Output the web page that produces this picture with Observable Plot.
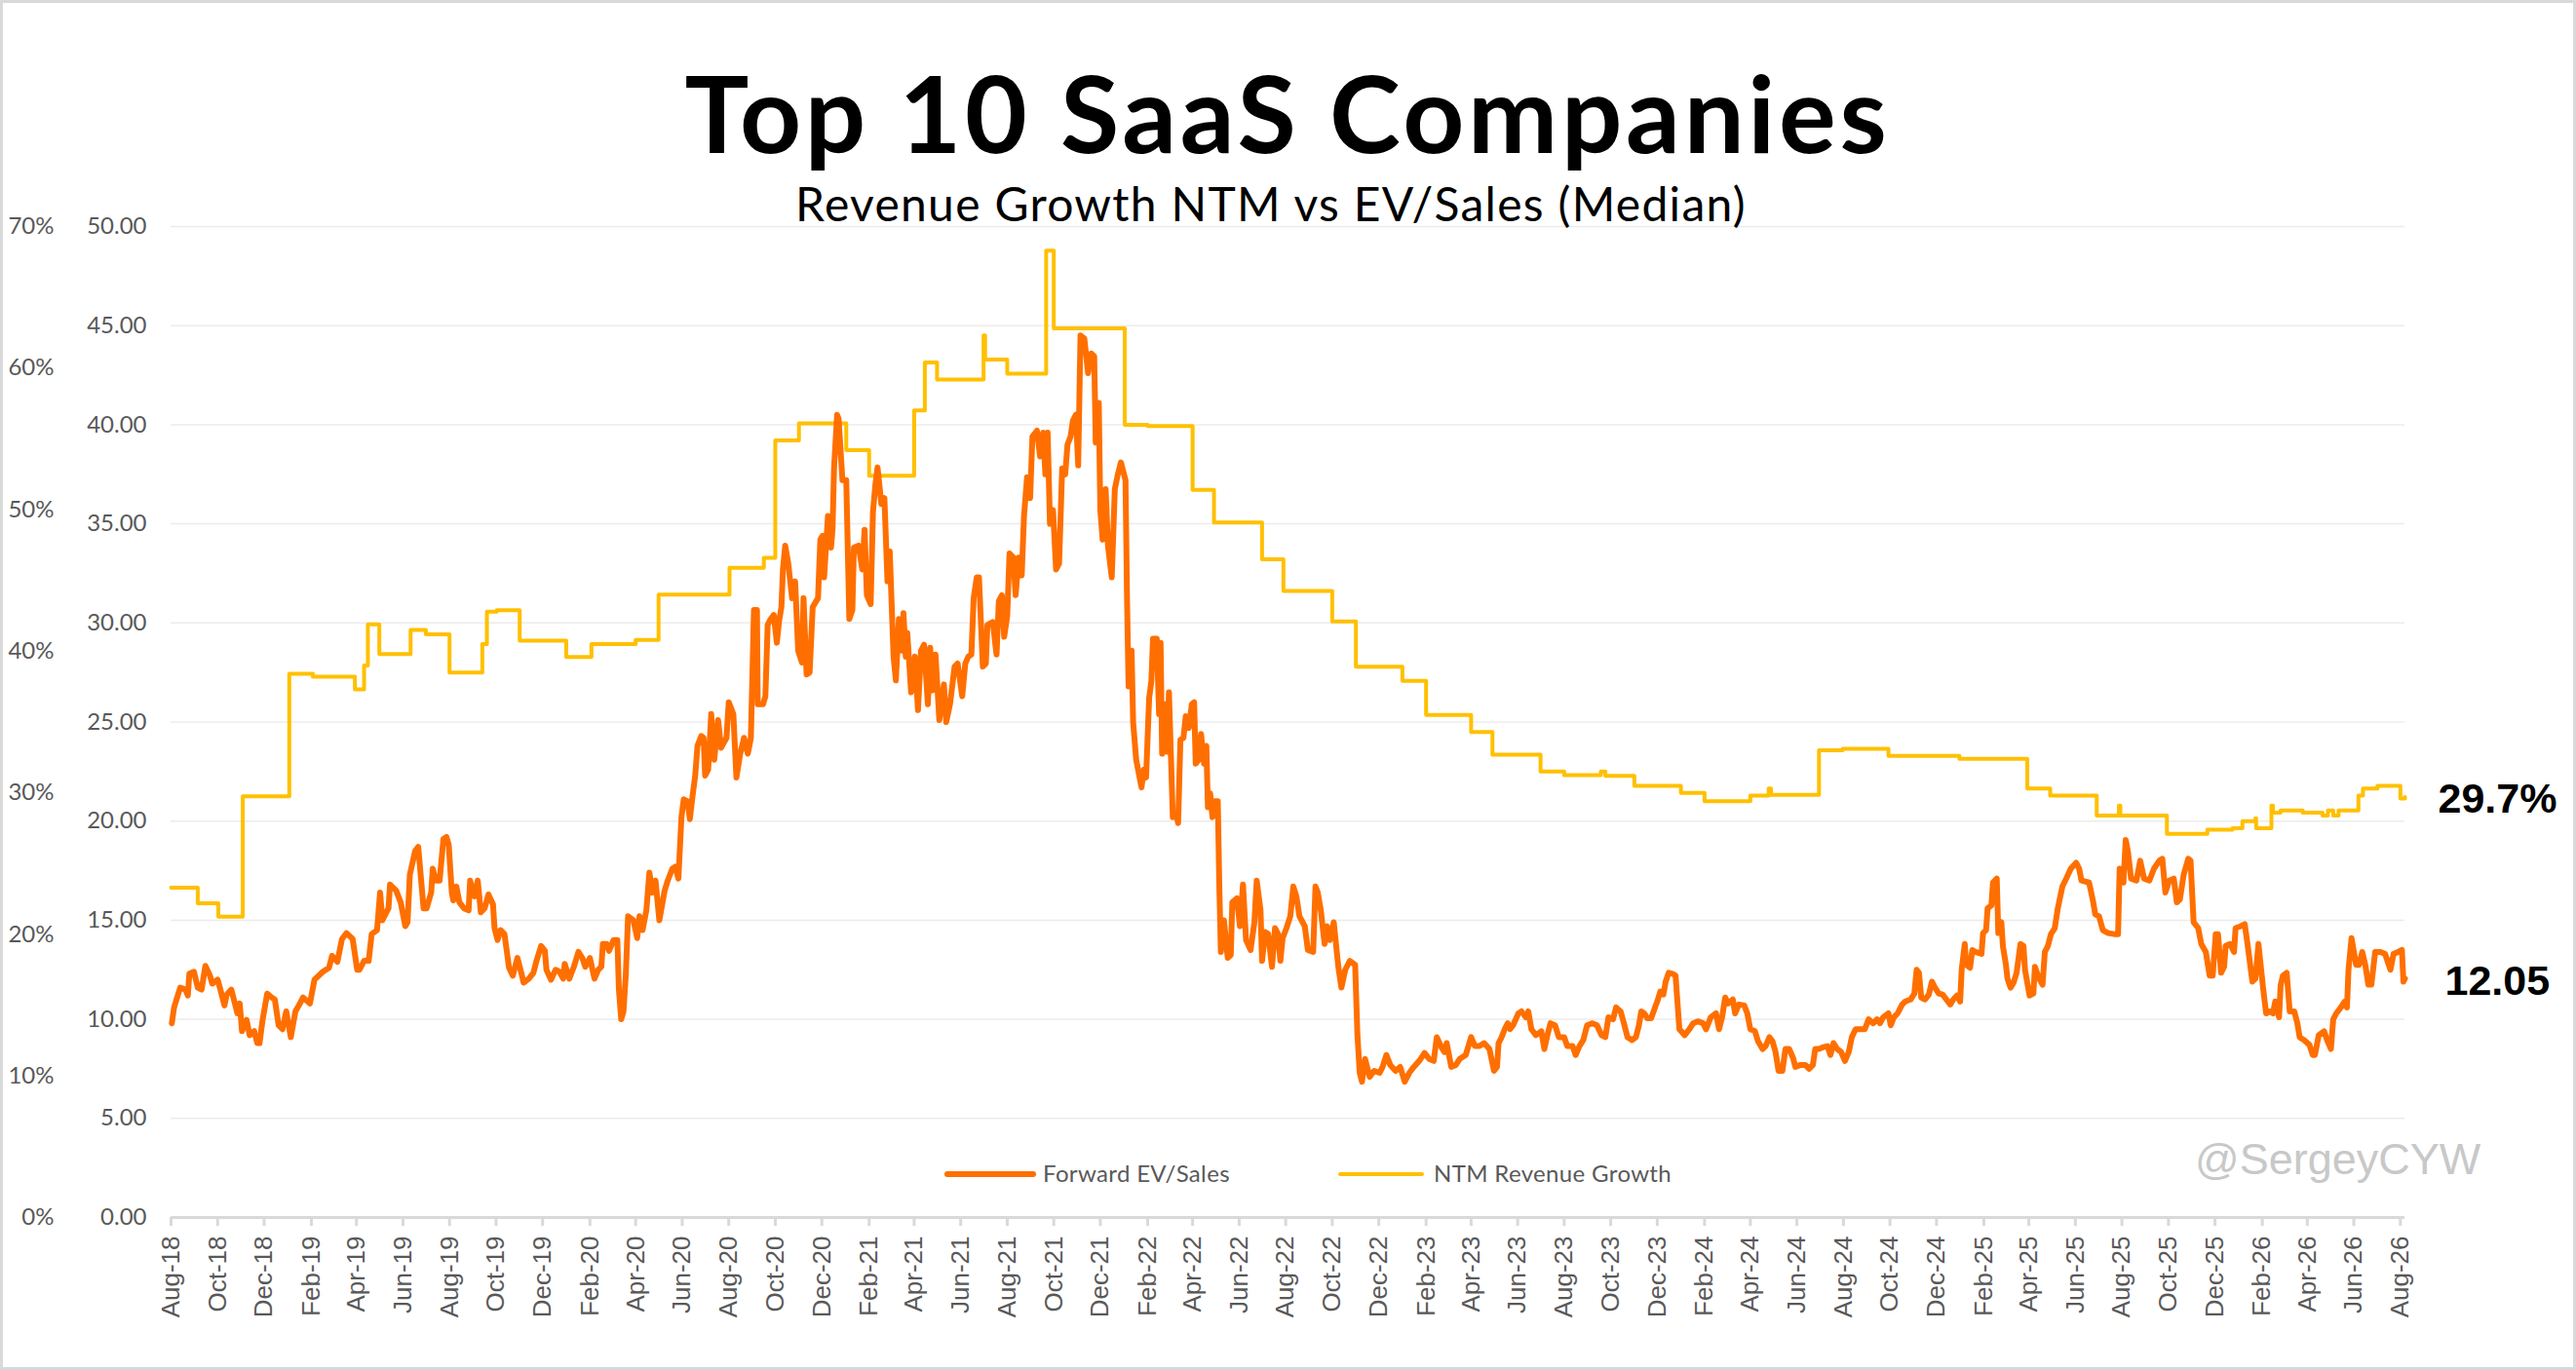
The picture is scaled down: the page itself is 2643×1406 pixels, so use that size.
<!DOCTYPE html>
<html><head><meta charset="utf-8">
<script src="https://cdn.jsdelivr.net/npm/d3@7"></script>
<script src="https://cdn.jsdelivr.net/npm/@observablehq/plot@0.6"></script>
<style>
html,body{margin:0;padding:0;background:#fff;overflow:hidden;}
#wrap{position:relative;width:2643px;height:1406px;background:#fff;}
#chart{position:absolute;left:0;top:0;}
#frame{position:absolute;left:0;top:0;width:2643px;height:1406px;box-sizing:border-box;border:3px solid #d9d9d9;pointer-events:none;}
.t{position:absolute;white-space:nowrap;line-height:1;}
#title{font-family:Lato,sans-serif;font-weight:700;font-size:110px;letter-spacing:3.7px;top:59px;left:1321px;transform:translateX(-50%);color:#000;}
#subtitle{font-family:Lato,sans-serif;font-size:48px;letter-spacing:1.3px;top:185px;left:1304px;transform:translateX(-50%);color:#000;}
.leg{font-family:Lato,sans-serif;font-size:24px;letter-spacing:0.35px;color:#595959;top:1192px;}
.sw{position:absolute;}
#wm{font-family:"Liberation Sans",Arial,sans-serif;font-size:45px;color:#c8c8c8;left:2252px;top:1167px;}
</style></head>
<body><div id="wrap">
<div id="chart"></div>
<div class="t" id="title"></div>
<div class="t" id="subtitle"></div>
<div class="sw" id="sw1" style="left:969px;top:1202px;width:94px;height:6px;border-radius:3px;"></div>
<div class="t leg" id="leg1" style="left:1070px;"></div>
<div class="sw" id="sw2" style="left:1373px;top:1203px;width:88px;height:4px;border-radius:2px;"></div>
<div class="t leg" id="leg2" style="left:1471px;"></div>
<div class="t" id="wm"></div>
<div id="frame"></div>
</div>
<script>
const titleText = "Top 10 SaaS Companies";
const subtitleText = "Revenue Growth NTM vs EV/Sales (Median)";
const seriesNames = ["Forward EV/Sales", "NTM Revenue Growth"];
const seriesColors = ["#FF6F00", "#FFC000"];
const watermark = "@SergeyCYW";
const evTicks = [0, 5, 10, 15, 20, 25, 30, 35, 40, 45, 50];
const pctTicks = [0, 10, 20, 30, 40, 50, 60, 70];
const evMax = 50, pctMax = 70;
const xDomain = ["2018-08-01", "2026-08-07"];
const xTickLabels = ["Aug-18","Oct-18","Dec-18","Feb-19","Apr-19","Jun-19","Aug-19","Oct-19","Dec-19","Feb-20","Apr-20","Jun-20","Aug-20","Oct-20","Dec-20","Feb-21","Apr-21","Jun-21","Aug-21","Oct-21","Dec-21","Feb-22","Apr-22","Jun-22","Aug-22","Oct-22","Dec-22","Feb-23","Apr-23","Jun-23","Aug-23","Oct-23","Dec-23","Feb-24","Apr-24","Jun-24","Aug-24","Oct-24","Dec-24","Feb-25","Apr-25","Jun-25","Aug-25","Oct-25","Dec-25","Feb-26","Apr-26","Jun-26","Aug-26"];

// Forward EV/Sales (median)
const evSales = [
["2018-08-02",9.8],["2018-08-05",10.6],["2018-08-09",11.1],["2018-08-13",11.6],["2018-08-20",11.5],["2018-08-23",11.2],["2018-08-25",12.3],["2018-08-31",12.4],
["2018-09-05",11.6],["2018-09-10",11.5],["2018-09-15",12.7],["2018-09-21",12.2],["2018-09-24",11.8],
["2018-10-01",12.0],["2018-10-04",11.6],["2018-10-10",10.7],["2018-10-13",11.25],["2018-10-19",11.5],["2018-10-23",10.9],["2018-10-27",10.3],["2018-10-30",10.8],
["2018-11-02",9.4],["2018-11-08",9.97],["2018-11-12",9.2],["2018-11-18",9.4],["2018-11-22",8.8],["2018-11-25",8.8],["2018-11-29",9.97],
["2018-12-05",11.3],["2018-12-11",11.1],["2018-12-15",11.0],["2018-12-20",9.7],["2018-12-25",9.5],["2018-12-30",10.4],
["2019-01-05",9.1],["2019-01-11",10.4],["2019-01-17",10.8],["2019-01-21",11.1],["2019-01-30",10.8],
["2019-02-05",12.0],["2019-02-16",12.4],["2019-02-24",12.6],["2019-02-28",13.2],
["2019-03-07",12.9],["2019-03-13",14.05],["2019-03-19",14.35],["2019-03-27",14.05],
["2019-04-02",12.5],["2019-04-05",12.5],["2019-04-11",12.95],["2019-04-17",12.95],["2019-04-21",14.3],["2019-04-28",14.5],
["2019-05-02",16.4],["2019-05-05",15.0],["2019-05-13",15.6],["2019-05-15",16.8],["2019-05-23",16.5],["2019-05-29",15.9],
["2019-06-04",14.7],["2019-06-07",14.9],["2019-06-10",17.3],["2019-06-17",18.5],["2019-06-21",18.7],["2019-06-28",15.6],
["2019-07-02",15.6],["2019-07-08",16.4],["2019-07-10",17.6],["2019-07-14",17.0],["2019-07-19",17.0],["2019-07-24",19.1],["2019-07-28",19.2],["2019-07-31",18.8],
["2019-08-04",16.4],["2019-08-06",16.0],["2019-08-10",16.7],["2019-08-14",15.9],["2019-08-20",15.6],["2019-08-26",15.5],["2019-08-28",17.0],
["2019-09-03",16.2],["2019-09-07",17.0],["2019-09-11",15.4],["2019-09-16",15.6],["2019-09-21",16.3],["2019-09-27",15.8],["2019-09-29",14.6],
["2019-10-03",14.0],["2019-10-07",14.5],["2019-10-12",14.3],["2019-10-18",12.6],["2019-10-23",12.2],["2019-10-29",13.1],
["2019-11-04",12.2],["2019-11-06",11.85],["2019-11-13",12.05],["2019-11-19",12.35],["2019-11-23",12.95],["2019-11-29",13.7],
["2019-12-04",13.45],["2019-12-06",12.5],["2019-12-12",12.0],["2019-12-18",12.5],["2019-12-23",12.4],["2019-12-28",12.05],["2019-12-30",12.8],
["2020-01-05",12.05],["2020-01-11",12.65],["2020-01-17",13.4],["2020-01-22",13.1],["2020-01-26",12.65],
["2020-02-01",13.1],["2020-02-07",12.05],["2020-02-12",12.5],["2020-02-16",12.65],["2020-02-18",13.8],["2020-02-23",13.8],["2020-02-26",13.45],
["2020-03-03",14.0],["2020-03-08",14.0],["2020-03-10",11.5],["2020-03-13",10.0],["2020-03-16",10.4],["2020-03-19",12.2],["2020-03-22",15.2],["2020-03-29",15.0],
["2020-04-03",14.1],["2020-04-06",15.2],["2020-04-10",14.5],["2020-04-15",15.5],["2020-04-19",17.4],["2020-04-23",16.4],["2020-04-27",17.0],
["2020-05-02",15.0],["2020-05-09",16.5],["2020-05-13",17.0],["2020-05-19",17.6],["2020-05-23",17.7],["2020-05-27",17.1],["2020-05-31",20.2],
["2020-06-03",21.1],["2020-06-08",21.0],["2020-06-11",20.1],["2020-06-14",21.1],["2020-06-18",22.3],["2020-06-21",23.8],["2020-06-26",24.3],["2020-06-29",24.2],
["2020-07-01",22.3],["2020-07-05",22.6],["2020-07-09",25.4],["2020-07-13",23.1],["2020-07-18",25.1],["2020-07-22",23.7],["2020-07-29",24.2],
["2020-08-01",26.0],["2020-08-07",25.4],["2020-08-11",22.2],["2020-08-16",23.4],["2020-08-21",24.2],["2020-08-26",23.4],["2020-08-30",24.2],
["2020-09-03",30.65],["2020-09-07",30.65],["2020-09-08",25.9],["2020-09-15",25.9],["2020-09-18",26.3],["2020-09-21",29.9],["2020-09-25",30.2],["2020-09-29",30.4],
["2020-10-03",29.0],["2020-10-06",30.1],["2020-10-09",30.8],["2020-10-11",32.7],["2020-10-14",33.9],["2020-10-18",33.0],["2020-10-23",31.25],["2020-10-27",32.1],["2020-10-31",28.6],
["2020-11-05",28.0],["2020-11-07",31.25],["2020-11-11",27.4],["2020-11-15",27.5],["2020-11-19",30.8],["2020-11-26",31.25],["2020-11-29",34.2],
["2020-12-02",34.4],["2020-12-04",32.3],["2020-12-09",35.4],["2020-12-13",33.8],["2020-12-15",34.7],["2020-12-17",37.8],["2020-12-21",40.5],["2020-12-23",40.3],["2020-12-28",37.2],
["2021-01-02",37.2],["2021-01-06",30.2],["2021-01-10",30.65],["2021-01-12",33.8],["2021-01-18",33.9],["2021-01-23",32.7],["2021-01-26",34.7],["2021-01-29",31.4],
["2021-02-03",30.95],["2021-02-06",35.6],["2021-02-09",36.9],["2021-02-12",37.85],["2021-02-17",36.0],["2021-02-21",36.3],["2021-02-25",32.1],["2021-02-28",33.6],
["2021-03-05",28.3],["2021-03-08",27.1],["2021-03-12",30.2],["2021-03-16",28.6],["2021-03-18",30.5],["2021-03-21",28.3],["2021-03-23",29.5],["2021-03-28",26.5],
["2021-04-02",28.3],["2021-04-06",25.6],["2021-04-10",28.6],["2021-04-14",28.9],["2021-04-19",25.9],["2021-04-22",28.75],["2021-04-25",26.6],["2021-04-29",28.4],
["2021-05-04",25.1],["2021-05-10",26.9],["2021-05-13",25.0],["2021-05-18",25.9],["2021-05-24",27.8],["2021-05-28",27.95],
["2021-06-03",26.3],["2021-06-07",27.95],["2021-06-11",28.3],["2021-06-15",28.4],["2021-06-18",31.25],["2021-06-22",32.3],["2021-06-25",32.3],["2021-06-30",27.8],
["2021-07-04",27.95],["2021-07-06",29.9],["2021-07-13",30.05],["2021-07-18",28.4],["2021-07-21",31.1],["2021-07-25",31.4],["2021-07-28",29.3],
["2021-08-01",30.35],["2021-08-04",33.5],["2021-08-09",33.3],["2021-08-12",31.4],["2021-08-16",33.3],["2021-08-20",32.4],["2021-08-23",35.4],["2021-08-27",37.35],["2021-08-31",36.3],
["2021-09-03",39.4],["2021-09-09",39.7],["2021-09-13",38.4],["2021-09-17",39.6],["2021-09-20",37.5],["2021-09-23",39.6],["2021-09-26",35.0],["2021-09-30",35.7],
["2021-10-04",32.7],["2021-10-08",33.0],["2021-10-12",37.8],["2021-10-16",37.5],["2021-10-19",39.0],["2021-10-23",39.4],["2021-10-26",40.2],["2021-10-30",40.5],
["2021-11-02",37.95],["2021-11-05",44.5],["2021-11-10",44.35],["2021-11-15",42.6],["2021-11-19",43.6],["2021-11-23",43.45],["2021-11-25",39.1],["2021-11-29",41.1],
["2021-12-01",35.7],["2021-12-04",34.2],["2021-12-08",36.75],["2021-12-11",33.9],["2021-12-16",32.3],["2021-12-20",36.75],["2021-12-24",37.5],["2021-12-28",38.1],
["2022-01-03",37.2],["2022-01-05",31.25],["2022-01-07",26.8],["2022-01-11",28.6],["2022-01-13",25.0],["2022-01-17",23.1],["2022-01-20",22.5],["2022-01-24",21.7],["2022-01-27",22.6],["2022-01-30",22.2],
["2022-02-03",26.2],["2022-02-06",27.1],["2022-02-08",29.2],["2022-02-13",29.2],["2022-02-16",25.4],["2022-02-18",29.0],["2022-02-20",23.4],["2022-02-24",25.9],["2022-02-26",23.5],
["2022-03-01",26.5],["2022-03-06",20.2],["2022-03-10",20.4],["2022-03-13",19.9],["2022-03-16",24.1],["2022-03-20",24.2],["2022-03-23",25.3],["2022-03-27",24.7],["2022-03-31",25.9],
["2022-04-03",26.0],["2022-04-05",22.9],["2022-04-09",23.1],["2022-04-12",24.4],["2022-04-16",22.9],["2022-04-19",23.8],["2022-04-21",20.7],["2022-04-24",21.4],["2022-04-27",20.2],["2022-04-30",21.0],
["2022-05-04",21.0],["2022-05-06",16.7],["2022-05-08",13.4],["2022-05-12",15.0],["2022-05-17",13.1],["2022-05-21",13.25],["2022-05-23",15.9],["2022-05-29",16.1],
["2022-06-02",14.7],["2022-06-06",16.8],["2022-06-10",14.0],["2022-06-16",13.5],["2022-06-21",14.9],["2022-06-24",17.0],["2022-06-29",15.5],
["2022-07-01",12.95],["2022-07-05",14.4],["2022-07-09",14.3],["2022-07-14",12.65],["2022-07-18",14.6],["2022-07-22",14.3],["2022-07-25",12.95],["2022-07-28",14.1],
["2022-08-02",14.6],["2022-08-07",15.2],["2022-08-11",16.7],["2022-08-15",16.2],["2022-08-19",15.2],["2022-08-26",14.7],["2022-08-30",13.5],
["2022-09-06",13.4],["2022-09-09",16.7],["2022-09-12",16.4],["2022-09-16",15.5],["2022-09-21",13.8],["2022-09-24",14.7],["2022-09-28",14.0],
["2022-10-03",14.9],["2022-10-09",12.65],["2022-10-13",11.6],["2022-10-18",12.5],["2022-10-24",12.95],["2022-10-31",12.75],
["2022-11-03",9.2],["2022-11-06",7.3],["2022-11-09",6.85],["2022-11-13",8.0],["2022-11-19",7.1],["2022-11-25",7.4],
["2022-12-02",7.3],["2022-12-06",7.6],["2022-12-11",8.2],["2022-12-16",7.7],["2022-12-23",7.4],["2022-12-29",7.6],
["2023-01-04",6.85],["2023-01-10",7.3],["2023-01-16",7.6],["2023-01-23",7.9],["2023-01-30",8.3],
["2023-02-05",8.0],["2023-02-11",7.9],["2023-02-15",9.1],["2023-02-21",8.6],["2023-02-25",8.35],["2023-02-28",8.8],
["2023-03-06",7.6],["2023-03-12",7.7],["2023-03-17",8.0],["2023-03-25",8.2],
["2023-04-01",9.1],["2023-04-06",8.65],["2023-04-12",8.65],["2023-04-18",8.8],["2023-04-25",8.5],
["2023-05-01",7.4],["2023-05-05",7.6],["2023-05-07",8.8],["2023-05-11",9.1],["2023-05-15",9.5],["2023-05-19",9.8],["2023-05-22",9.5],["2023-05-26",9.7],
["2023-06-02",10.3],["2023-06-06",10.4],["2023-06-12",10.1],["2023-06-15",10.4],["2023-06-19",9.5],["2023-06-25",9.2],
["2023-07-02",9.4],["2023-07-06",8.5],["2023-07-10",9.2],["2023-07-14",9.8],["2023-07-20",9.7],["2023-07-25",9.1],
["2023-08-01",9.1],["2023-08-05",8.65],["2023-08-12",8.65],["2023-08-16",8.2],["2023-08-21",8.65],["2023-08-26",8.95],["2023-08-31",9.7],
["2023-09-07",9.8],["2023-09-13",9.7],["2023-09-19",9.2],["2023-09-24",9.1],["2023-09-28",10.1],
["2023-10-04",10.0],["2023-10-08",10.6],["2023-10-14",10.4],["2023-10-19",9.7],["2023-10-23",9.1],["2023-10-29",8.95],
["2023-11-03",9.1],["2023-11-07",9.7],["2023-11-10",10.4],["2023-11-14",10.3],["2023-11-18",10.05],["2023-11-23",10.05],["2023-11-28",10.6],
["2023-12-01",10.9],["2023-12-05",11.4],["2023-12-09",11.25],["2023-12-12",11.9],["2023-12-16",12.35],["2023-12-21",12.3],["2023-12-25",12.2],["2023-12-30",9.5],
["2024-01-06",9.2],["2024-01-12",9.5],["2024-01-17",9.8],["2024-01-23",9.9],["2024-01-30",9.8],
["2024-02-03",9.5],["2024-02-09",10.1],["2024-02-16",10.3],["2024-02-20",9.5],["2024-02-24",10.1],["2024-02-28",11.1],
["2024-03-03",10.8],["2024-03-09",11.0],["2024-03-12",10.3],["2024-03-17",10.75],["2024-03-24",10.7],["2024-03-28",10.3],
["2024-04-01",9.5],["2024-04-07",9.4],["2024-04-11",8.9],["2024-04-17",8.5],["2024-04-21",8.65],["2024-04-26",9.1],["2024-04-30",8.9],
["2024-05-04",8.35],["2024-05-08",7.4],["2024-05-13",7.4],["2024-05-17",8.5],["2024-05-22",8.5],["2024-05-27",8.05],["2024-05-30",7.6],
["2024-06-06",7.7],["2024-06-12",7.7],["2024-06-17",7.5],["2024-06-22",7.7],["2024-06-25",8.5],["2024-06-30",8.5],
["2024-07-06",8.6],["2024-07-11",8.65],["2024-07-15",8.2],["2024-07-19",8.8],["2024-07-24",8.5],["2024-07-29",8.35],
["2024-08-03",7.9],["2024-08-08",8.35],["2024-08-12",9.1],["2024-08-17",9.5],["2024-08-23",9.5],["2024-08-29",9.5],
["2024-09-03",10.0],["2024-09-09",9.8],["2024-09-14",10.0],["2024-09-18",9.8],["2024-09-22",10.1],["2024-09-29",10.3],
["2024-10-02",9.7],["2024-10-06",10.1],["2024-10-11",10.3],["2024-10-17",10.75],["2024-10-21",10.9],["2024-10-28",11.0],
["2024-11-02",11.3],["2024-11-05",12.5],["2024-11-08",12.35],["2024-11-11",11.1],["2024-11-16",11.0],["2024-11-21",11.25],["2024-11-25",11.9],["2024-11-29",11.6],
["2024-12-04",11.3],["2024-12-09",11.25],["2024-12-14",11.0],["2024-12-19",10.75],["2024-12-23",11.0],["2024-12-28",11.2],
["2025-01-01",10.9],["2025-01-03",12.5],["2025-01-07",13.8],["2025-01-09",12.75],["2025-01-14",12.6],["2025-01-17",13.5],["2025-01-21",13.4],["2025-01-29",13.3],["2025-01-31",14.35],
["2025-02-04",14.5],["2025-02-06",15.6],["2025-02-11",15.75],["2025-02-13",16.9],["2025-02-18",17.1],["2025-02-20",14.35],["2025-02-24",14.9],["2025-02-26",13.7],
["2025-03-02",12.75],["2025-03-04",12.05],["2025-03-08",11.6],["2025-03-12",11.85],["2025-03-16",12.35],["2025-03-21",13.8],["2025-03-25",13.7],["2025-03-27",12.5],
["2025-04-02",11.2],["2025-04-07",11.3],["2025-04-09",12.65],["2025-04-14",12.1],["2025-04-19",11.75],["2025-04-22",13.4],["2025-04-26",13.7],["2025-04-30",14.3],
["2025-05-05",14.6],["2025-05-09",15.6],["2025-05-15",16.7],["2025-05-20",17.1],["2025-05-26",17.6],
["2025-06-02",17.9],["2025-06-06",17.6],["2025-06-09",17.0],["2025-06-19",16.9],["2025-06-24",16.0],["2025-06-27",15.3],
["2025-07-02",15.2],["2025-07-07",14.5],["2025-07-14",14.35],["2025-07-22",14.3],["2025-07-27",14.3],["2025-07-29",17.6],
["2025-08-03",16.9],["2025-08-06",19.05],["2025-08-09",18.45],["2025-08-13",17.1],["2025-08-20",17.0],["2025-08-25",18.0],["2025-08-30",17.1],
["2025-09-06",17.0],["2025-09-12",17.6],["2025-09-19",18.0],["2025-09-23",18.1],["2025-09-27",16.4],
["2025-10-02",17.0],["2025-10-08",17.1],["2025-10-12",15.9],["2025-10-16",16.05],["2025-10-21",17.3],["2025-10-27",18.1],["2025-10-30",18.0],
["2025-11-03",14.9],["2025-11-09",14.6],["2025-11-13",13.8],["2025-11-19",13.4],["2025-11-24",12.2],["2025-11-28",12.2],
["2025-12-02",14.3],["2025-12-05",14.3],["2025-12-09",12.35],["2025-12-13",12.65],["2025-12-15",13.7],["2025-12-21",13.8],["2025-12-26",13.4],["2025-12-28",14.6],
["2026-01-04",14.7],["2026-01-09",14.8],["2026-01-13",13.7],["2026-01-19",11.9],["2026-01-23",12.05],["2026-01-27",13.8],
["2026-02-02",11.6],["2026-02-06",10.3],["2026-02-11",10.4],["2026-02-15",10.3],["2026-02-18",10.9],["2026-02-23",10.1],["2026-02-25",11.7],["2026-02-28",12.2],
["2026-03-05",12.35],["2026-03-09",10.4],["2026-03-15",10.4],["2026-03-19",9.8],["2026-03-22",9.1],["2026-03-28",8.95],
["2026-04-04",8.7],["2026-04-08",8.2],["2026-04-11",8.2],["2026-04-16",9.2],["2026-04-23",9.4],["2026-04-27",8.95],
["2026-05-02",8.5],["2026-05-05",10.0],["2026-05-09",10.3],["2026-05-15",10.6],["2026-05-20",10.9],["2026-05-23",10.6],["2026-05-25",12.5],["2026-05-29",14.1],
["2026-06-04",12.75],["2026-06-08",12.75],["2026-06-12",13.4],["2026-06-16",12.75],["2026-06-20",11.75],["2026-06-24",11.75],["2026-06-29",13.4],
["2026-07-06",13.4],["2026-07-12",13.3],["2026-07-19",12.5],["2026-07-23",13.3],["2026-07-29",13.4],
["2026-08-03",13.5],["2026-08-05",11.9],["2026-08-07",12.05]
];

// NTM Revenue Growth (median, %), step changes
const ntmGrowth = [
["2018-08-01",23.3],["2018-09-05",22.2],["2018-10-02",21.25],["2018-11-03",29.75],["2019-01-03",38.4],["2019-02-03",38.2],["2019-03-30",37.3],["2019-04-11",39.0],["2019-04-16",41.9],["2019-05-01",39.8],["2019-06-11",41.5],["2019-07-01",41.2],["2019-08-01",38.5],["2019-09-13",40.5],["2019-09-19",42.8],["2019-10-02",42.9],["2019-11-01",40.75],["2020-01-01",39.6],["2020-02-03",40.5],["2020-04-01",40.8],["2020-05-01",44.0],["2020-08-02",45.9],["2020-09-16",46.6],["2020-10-01",54.9],["2020-11-01",56.1],["2021-01-02",54.2],["2021-02-01",52.4],["2021-04-01",57.0],["2021-04-15",60.4],["2021-05-01",59.2],["2021-07-01",62.3],["2021-07-03",60.6],["2021-08-01",59.6],["2021-09-21",68.3],["2021-10-01",62.8],["2022-01-02",56.0],["2022-02-01",55.9],["2022-04-01",51.4],["2022-04-29",49.1],["2022-07-01",46.5],["2022-07-29",44.25],["2022-10-01",42.1],["2022-11-01",38.9],["2023-01-01",37.9],["2023-02-01",35.5],["2023-04-01",34.3],["2023-04-29",32.7],["2023-07-01",31.5],["2023-08-01",31.25],["2023-09-18",31.5],["2023-09-24",31.2],["2023-11-01",30.5],["2024-01-01",30.0],["2024-02-01",29.4],["2024-04-01",29.8],["2024-04-25",30.3],["2024-04-28",29.85],["2024-06-30",33.0],["2024-07-31",33.1],["2024-09-29",32.6],["2024-12-31",32.4],["2025-03-30",30.3],["2025-04-29",29.8],["2025-06-29",28.4],["2025-07-28",29.1],["2025-07-30",28.4],["2025-09-29",27.1],["2025-11-21",27.4],["2025-12-24",27.5],["2026-01-06",28.0],["2026-01-23",28.2],["2026-01-24",27.5],["2026-02-13",29.1],["2026-02-15",28.6],["2026-02-25",28.75],["2026-03-26",28.6],["2026-04-21",28.4],["2026-04-28",28.75],["2026-05-05",28.4],["2026-05-12",28.75],["2026-06-07",29.8],["2026-06-13",30.3],["2026-07-02",30.5],["2026-08-01",29.6],["2026-08-07",29.7]
];

const parseDate = d3.utcParse("%Y-%m-%d");
const parseTick = d3.utcParse("%b-%y");
const evRows = evSales.map(([d, v]) => ({date: parseDate(d), value: v}));
const grRows = ntmGrowth.map(([d, v]) => ({date: parseDate(d), pct: v}));
const pctToEv = p => p * evMax / pctMax;
const tickDates = xTickLabels.map(parseTick);
const labelByTime = new Map(tickDates.map((d, i) => [+d, xTickLabels[i]]));

const chart = Plot.plot({
  width: 2643, height: 1406,
  marginLeft: 175, marginRight: 176, marginTop: 232, marginBottom: 157,
  style: {fontFamily: "Lato, sans-serif", background: "transparent", overflow: "visible"},
  x: {type: "utc", domain: xDomain.map(parseDate)},
  y: {domain: [0, evMax]},
  marks: [
    Plot.gridY(evTicks.slice(1), {stroke: "#ececec", strokeOpacity: 1, strokeWidth: 1.5}),
    Plot.axisY(evTicks, {tickSize: 0, tickPadding: 25, tickFormat: d => d.toFixed(2), fontSize: 24, fill: "#595959", label: null}),
    Plot.axisY(pctTicks.map(pctToEv), {tickSize: 0, tickPadding: 120, tickFormat: d => Math.round(d * pctMax / evMax) + "%", fontSize: 24, fill: "#595959", label: null}),
    Plot.ruleY([0], {stroke: "#d9d9d9", strokeWidth: 3}),
    Plot.axisX(tickDates, {tickRotate: -90, tickSize: 9, tickPadding: 10, tickFormat: d => labelByTime.get(+d), stroke: "#d9d9d9", strokeWidth: 3, fontSize: 26, fontFamily: "Liberation Sans, Arial, sans-serif", fill: "#595959", label: null}),
    Plot.line(grRows, {x: "date", y: d => pctToEv(d.pct), curve: "step-after", stroke: seriesColors[1], strokeWidth: 4}),
    Plot.line(evRows, {x: "date", y: "value", stroke: seriesColors[0], strokeWidth: 6, strokeLinejoin: "round", strokeLinecap: "round"}),
    Plot.text([grRows[grRows.length - 1]], {x: "date", y: d => pctToEv(d.pct), text: d => d.pct.toFixed(1) + "%", dx: 34, dy: 2, textAnchor: "start", fontSize: 43, fontWeight: "bold", fontFamily: "Liberation Sans, Arial, sans-serif", fill: "#000"}),
    Plot.text([evRows[evRows.length - 1]], {x: "date", y: "value", text: d => d.value.toFixed(2), dx: 41, dy: 3, textAnchor: "start", fontSize: 43, fontWeight: "bold", fontFamily: "Liberation Sans, Arial, sans-serif", fill: "#000"})
  ]
});
document.getElementById("chart").appendChild(chart);
document.getElementById("title").textContent = titleText;
document.getElementById("subtitle").textContent = subtitleText;
document.getElementById("leg1").textContent = seriesNames[0];
document.getElementById("leg2").textContent = seriesNames[1];
document.getElementById("sw1").style.background = seriesColors[0];
document.getElementById("sw2").style.background = seriesColors[1];
document.getElementById("wm").textContent = watermark;
</script>
</body></html>
